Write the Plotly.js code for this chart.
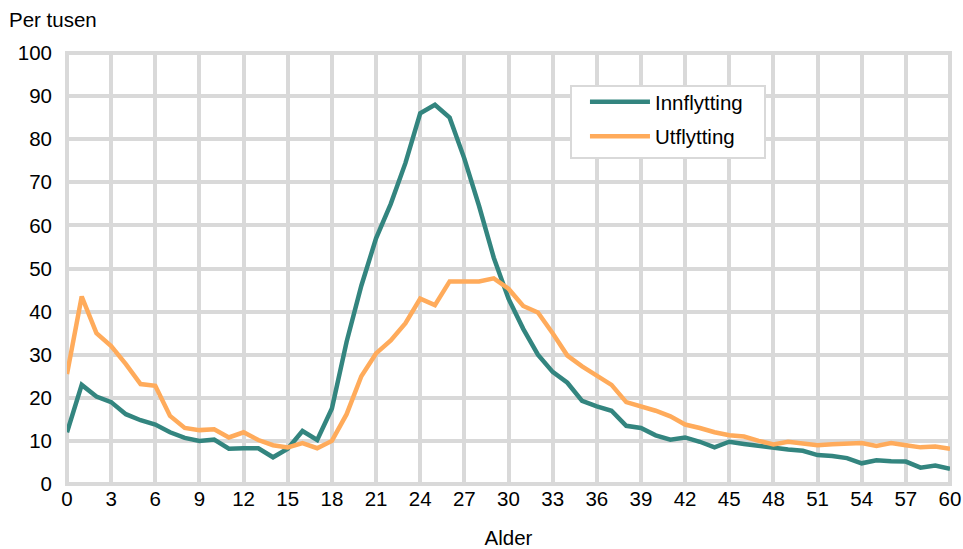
<!DOCTYPE html>
<html>
<head>
<meta charset="utf-8">
<script src="https://cdn.plot.ly/plotly-3.0.1.min.js"></script>
<style>html,body{margin:0;padding:0;background:#fff}#chart{width:963px;height:549px}</style>
</head>
<body>
<div id="chart"></div>
<script>
const ages = Array.from({length: 61}, (_, i) => i);
const innflytting = [12, 23, 20.3, 19, 16.2, 14.8, 13.8, 12, 10.7, 10, 10.3, 8.2, 8.3, 8.3, 6.2, 8.2, 12.3, 10.2, 17.5, 33, 46, 57, 65, 74.5, 86, 88, 85, 75.5, 64.5, 52.5, 43, 36, 30, 26, 23.5, 19.3, 18, 17, 13.5, 13, 11.3, 10.3, 10.8, 9.8, 8.5, 9.8, 9.3, 8.8, 8.3, 8, 7.7, 6.7, 6.5, 6, 4.8, 5.5, 5.3, 5.2, 3.8, 4.3, 3.5];
const utflytting = [25.5, 43.5, 35, 32, 27.8, 23.2, 22.8, 15.8, 13, 12.5, 12.7, 10.8, 12, 10.2, 9, 8.5, 9.5, 8.3, 10, 16.2, 25, 30.3, 33.3, 37.3, 43, 41.5, 47, 47, 47, 47.7, 45.3, 41.3, 39.8, 35, 29.8, 27.3, 25.3, 23, 19, 18, 17, 15.7, 13.8, 13, 12, 11.3, 11, 10, 9.2, 9.8, 9.3, 9, 9.2, 9.3, 9.5, 8.8, 9.5, 9, 8.5, 8.7, 8.2];
const seriesNames = ['Innflytting', 'Utflytting'];
const xTitle = 'Alder';
const yTitle = 'Per tusen';

const grid = '#d9d9d9';
const font = {family: 'Liberation Sans, Arial, sans-serif', size: 20.5, color: '#000'};

const traces = [
  {x: ages, y: innflytting, name: seriesNames[0], legendgroup: 'a', type: 'scatter', mode: 'lines',
   line: {color: '#33857f', width: 4.5}},
  {x: ages, y: utflytting, name: seriesNames[1], legendgroup: 'b', type: 'scatter', mode: 'lines',
   line: {color: '#ffab5b', width: 4.5}}
];

const layout = {
  width: 963, height: 549,
  margin: {l: 67, r: 13, t: 53, b: 65},
  paper_bgcolor: '#fff', plot_bgcolor: '#fff',
  font: font,
  showlegend: true,
  legend: {x: 0.5866, y: 0.933, xanchor: 'left', yanchor: 'top',
    bgcolor: 'rgba(0,0,0,0)', borderwidth: 0,
    font: font, tracegroupgap: 5, itemwidth: 60},
  xaxis: {range: [0, 60], tick0: 0, dtick: 3, showgrid: true, gridcolor: grid, gridwidth: 4,
    showline: false, zeroline: false,
    ticks: '', ticklabelstandoff: 0, tickfont: font,
    title: {text: xTitle, font: font, standoff: 24}},
  yaxis: {range: [0, 100], tick0: 0, dtick: 10, showgrid: true, gridcolor: grid, gridwidth: 4,
    showline: false, zeroline: false,
    ticks: '', ticklabelstandoff: 14, tickfont: font},
  shapes: [
    {type: 'rect', xref: 'paper', yref: 'paper', x0: 0, x1: 1, y0: 0, y1: 1,
     line: {color: grid, width: 4}, layer: 'below'},
    {type: 'rect', xref: 'paper', yref: 'paper', x0: 0.5708, x1: 0.7905, y0: 0.7564, y1: 0.9234,
     line: {color: grid, width: 2}, fillcolor: '#fff', layer: 'above'}
  ],
  annotations: [{text: yTitle, xref: 'paper', yref: 'paper', x: -0.0675, y: 1.077,
    xanchor: 'left', yanchor: 'middle', showarrow: false, font: font}]
};

Plotly.newPlot('chart', traces, layout, {displayModeBar: false, staticPlot: true});
</script>
</body>
</html>
